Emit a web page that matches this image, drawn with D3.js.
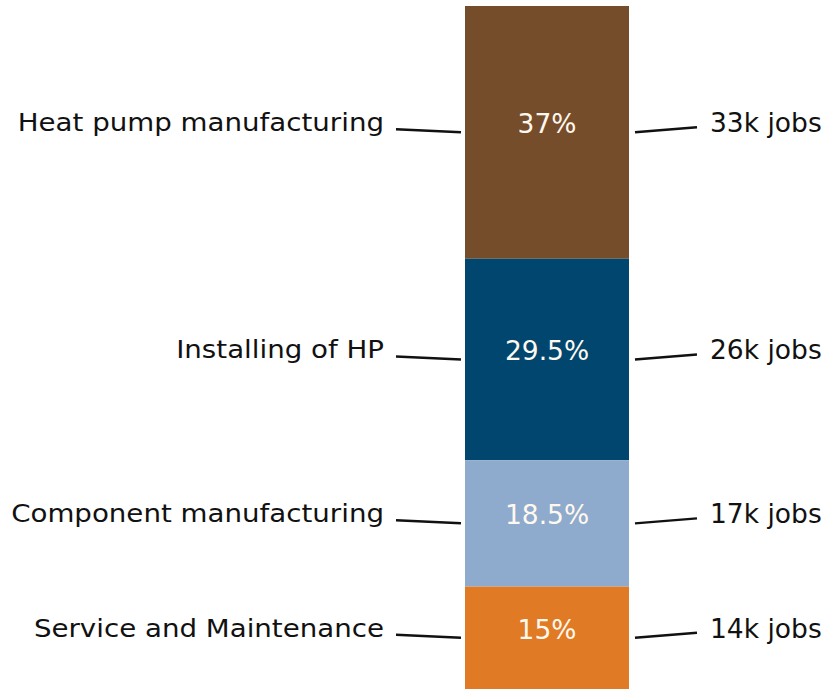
<!DOCTYPE html>
<html>
<head>
<meta charset="utf-8">
<script src="https://cdn.jsdelivr.net/npm/d3@7"></script>
<style>
  body { margin: 0; background: #fff; }
  text { font-family: "DejaVu Sans", sans-serif; }
</style>
</head>
<body>
<svg id="chart" width="831" height="690"></svg>
<script>
// jobs split by activity, top to bottom
var categories = ['Heat pump manufacturing', 'Installing of HP', 'Component manufacturing', 'Service and Maintenance'];
var shares = [37, 29.5, 18.5, 15];
var shareLabels = ['37%', '29.5%', '18.5%', '15%'];
var jobLabels = ['33k jobs', '26k jobs', '17k jobs', '14k jobs'];
var colors = ['#764d2b', '#00466f', '#8eaacc', '#e07a24'];

var svg = d3.select('#chart');

var y = d3.scaleLinear().domain([0, d3.sum(shares)]).range([6, 689]);
var x = d3.scaleBand().domain(['all']).range([465, 629]).padding(0);

var starts = d3.cumsum([0].concat(shares));
var rows = categories.map(function(c, i) {
  return { name: c, share: shares[i], start: starts[i], end: starts[i + 1], pct: shareLabels[i], jobs: jobLabels[i], color: colors[i] };
});

var g = svg.append('g');

g.selectAll('rect.seg').data(rows).enter().append('rect')
  .attr('class', 'seg')
  .attr('x', x('all'))
  .attr('width', x.bandwidth())
  .attr('y', function(d) { return y(d.start); })
  .attr('height', function(d) { return y(d.end) - y(d.start); })
  .attr('fill', function(d) { return d.color; });

function mid(d) { return (y(d.start) + y(d.end)) / 2; }

// percentages inside the bar
g.selectAll('text.pct').data(rows).enter().append('text')
  .attr('class', 'pct')
  .attr('x', x('all') + x.bandwidth() / 2)
  .attr('y', function(d) { return mid(d) + 1; })
  .attr('text-anchor', 'middle')
  .attr('fill', '#fff8ee')
  .attr('font-size', 26.5)
  .text(function(d) { return d.pct; });

// left connectors, a bit tilted like the original
g.selectAll('line.left').data(rows).enter().append('line')
  .attr('x1', 396).attr('x2', 461)
  .attr('y1', function(d) { return mid(d) - 3; })
  .attr('y2', function(d) { return mid(d); })
  .attr('stroke', '#111').attr('stroke-width', 2.5);

g.selectAll('line.right').data(rows).enter().append('line')
  .attr('x1', 635).attr('x2', 697)
  .attr('y1', function(d) { return mid(d); })
  .attr('y2', function(d) { return mid(d) - 5; })
  .attr('stroke', '#111').attr('stroke-width', 2.5);

// category names, stretched a little sideways as in the source image
g.selectAll('text.cat').data(rows).enter().append('text')
  .attr('class', 'cat')
  .attr('transform', function(d) { return 'translate(384,' + (mid(d) - 1) + ') scale(1.13,1)'; })
  .attr('text-anchor', 'end')
  .attr('fill', '#111')
  .attr('font-size', 24.5)
  .text(function(d) { return d.name; });

g.selectAll('text.jobs').data(rows).enter().append('text')
  .attr('class', 'jobs')
  .attr('x', 710)
  .attr('y', function(d) { return mid(d); })
  .attr('fill', '#111')
  .attr('font-size', 26.5)
  .text(function(d) { return d.jobs; });
</script>
</body>
</html>
